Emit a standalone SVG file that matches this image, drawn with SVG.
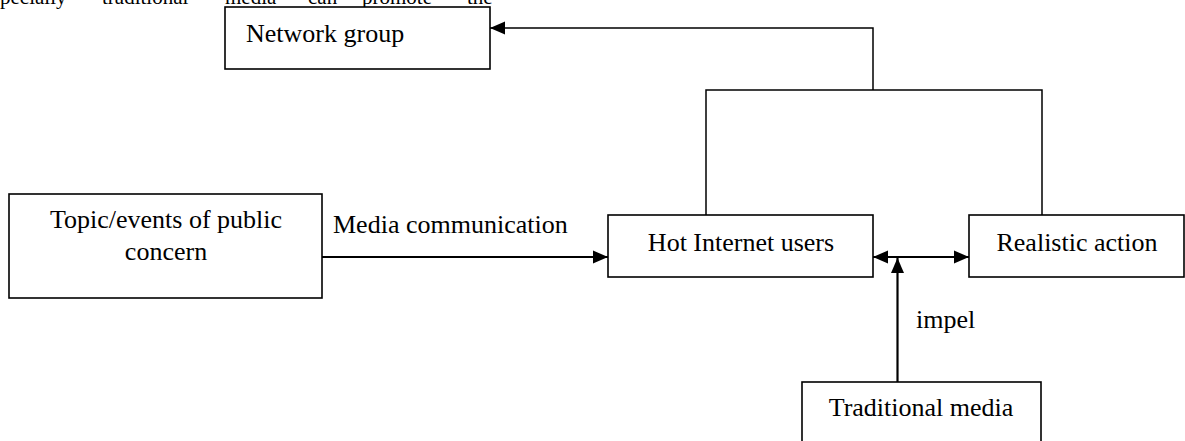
<svg xmlns="http://www.w3.org/2000/svg" width="1185" height="441" viewBox="0 0 1185 441">
  <style>
    .box { fill: #ffffff; stroke: #000000; stroke-width: 1.6; }
    .lbl { font-family: "Liberation Serif", "Times New Roman", serif; font-size: 26px; fill: #000000; }
    .mid { text-anchor: middle; }
    .top { font-family: "Liberation Serif", "Times New Roman", serif; font-size: 21px; fill: #000000; }
    .elbow { fill: none; stroke: #000000; stroke-width: 1.5; }
    .arr { fill: none; stroke: #000000; stroke-width: 2.2; }
  </style>
  <defs>
    <marker id="ah" markerUnits="userSpaceOnUse" markerWidth="16" markerHeight="14" refX="15" refY="6.5" orient="auto-start-reverse" viewBox="0 0 16 13">
      <path d="M0,0 L15,6.5 L0,13 z" fill="#000000"/>
    </marker>
  </defs>
  <rect width="1185" height="441" fill="#ffffff"/>

  <!-- clipped text line at top, as in the reference -->
  <g id="topline" class="top">
    <text x="0" y="4">pecially</text>
    <text x="102" y="4">traditional</text>
    <text x="225" y="4">media</text>
    <text x="308" y="4">can</text>
    <text x="362" y="4">promote</text>
    <text x="467" y="4">the</text>
  </g>

  <g id="connectors">
    <polyline class="elbow" points="706,215 706,90 1042,90 1042,215"/>
    <polyline class="elbow" points="873,90 873,28 490,28" marker-end="url(#ah)"/>
    <line class="arr" x1="322" y1="257" x2="608" y2="257" marker-end="url(#ah)"/>
    <line class="arr" x1="873" y1="257" x2="969" y2="257" marker-start="url(#ah)" marker-end="url(#ah)"/>
    <line class="arr" x1="897.5" y1="382" x2="897.5" y2="258" marker-end="url(#ah)"/>
    <text class="lbl" x="333" y="233">Media communication</text>
    <text class="lbl" x="916" y="328">impel</text>
  </g>

  <g id="network-group">
    <rect class="box" x="225" y="7" width="265" height="62"/>
    <text class="lbl" x="246" y="42">Network group</text>
  </g>

  <g id="topic-events">
    <rect class="box" x="9" y="194" width="313" height="104"/>
    <text class="lbl mid" x="166" y="228">Topic/events of public</text>
    <text class="lbl mid" x="166" y="260">concern</text>
  </g>

  <g id="hot-internet-users">
    <rect class="box" x="608" y="215" width="265" height="62"/>
    <text class="lbl mid" x="741" y="251">Hot Internet users</text>
  </g>

  <g id="realistic-action">
    <rect class="box" x="969" y="215" width="215" height="62"/>
    <text class="lbl mid" x="1077" y="251">Realistic action</text>
  </g>

  <g id="traditional-media">
    <rect class="box" x="802" y="382" width="239" height="70"/>
    <text class="lbl mid" x="921" y="416">Traditional media</text>
  </g>
</svg>
